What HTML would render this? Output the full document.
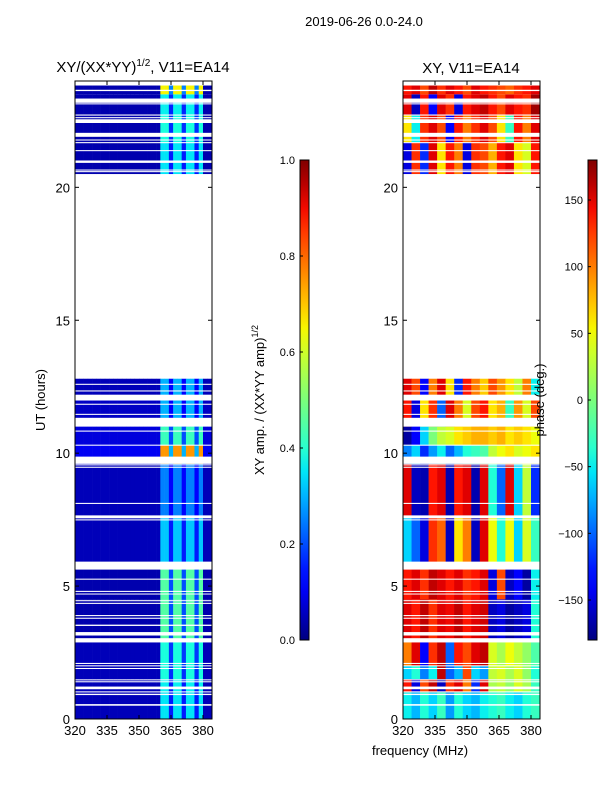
<!DOCTYPE html>
<html><head><meta charset="utf-8">
<style>
body{margin:0;background:#fff;}
svg text{font-family:"Liberation Sans",sans-serif;fill:#000;}
</style></head>
<body>
<svg id="fig" width="600" height="800" xmlns="http://www.w3.org/2000/svg">
<text x="364" y="26" font-size="13" text-anchor="middle">2019-06-26 0.0-24.0</text>
<text x="143" y="72" font-size="15" text-anchor="middle">XY/(XX*YY)<tspan font-size="10" dy="-6">1/2</tspan><tspan dy="6">, V11=EA14</tspan></text>
<text x="471" y="73" font-size="15" text-anchor="middle">XY, V11=EA14</text>
<text x="45" y="400" font-size="13" text-anchor="middle" transform="rotate(-90 45 400)">UT (hours)</text>
<text x="420" y="755" font-size="13" text-anchor="middle">frequency (MHz)</text>
<text x="264" y="400" font-size="13" text-anchor="middle" transform="rotate(-90 264 400)">XY amp. / (XX*YY amp)<tspan font-size="9" dy="-6">1/2</tspan></text>
<g id="left"></g>
<g id="right"></g>
<g id="axes"></g>
<g id="cbars"></g>
<text x="544" y="400" font-size="13" text-anchor="middle" transform="rotate(-90 544 400)">phase (deg.)</text>
</svg>
<script>
// ---- data ----
const bandStarts = [0, 1.0, 1.5, 2.0, 3.0, 4.5, 5.9, 7.6, 9.6, 10.3, 11.0, 12.0, 20.5, 21.7, 22.7, 23.5];
const bandEnds   = [1.0, 1.5, 2.0, 3.0, 4.5, 5.9, 7.6, 9.6, 10.3, 11.0, 12.0, 12.8, 21.7, 22.7, 23.5, 23.83];
// amplitude bright/dim level in the 360-380 MHz window and level below 360 MHz
const ampBright = [0.35, 0.36, 0.38, 0.38, 0.45, 0.45, 0.32, 0.25, 0.75, 0.42, 0.30, 0.30, 0.35, 0.38, 0.36, 0.65];
const ampDim    = [0.15, 0.15, 0.17, 0.18, 0.20, 0.20, 0.15, 0.12, 0.30, 0.20, 0.12, 0.12, 0.15, 0.17, 0.16, 0.25];
const ampLow    = [0.05, 0.05, 0.05, 0.05, 0.04, 0.04, 0.05, 0.05, 0.10, 0.08, 0.06, 0.05, 0.04, 0.04, 0.04, 0.04];
// 2 MHz column pattern above 360 MHz (B=bright, d=dim, L=low)
const ampPattern = "LLLLLLLLLLLLLLLLLLLLBBdBBdBBdBLL";
// phase (deg) per 4 MHz column, 320..384 MHz
const phaseVals = [
 [-50,-70,-40,-60,-30,-80,-40,-60,-70,-50,-40,-30,-50,-60,-40,-30],
 [140,-150,120,160,-160,130,150,100,-120,150,20,30,10,40,20,-30],
 [-60,-40,-90,-50,160,-100,-70,120,-60,-80,30,40,20,40,10,-40],
 [100,150,-140,130,160,-100,140,120,150,160,40,20,50,30,10,-20],
 [150,140,160,130,150,145,160,140,150,155,-160,-150,-170,-160,-150,-40],
 [140,150,130,160,150,140,150,130,140,150,-150,120,-160,-140,-170,-50],
 [-60,-100,-150,130,110,-160,60,100,-160,150,50,-40,50,-60,40,-30],
 [150,-160,-165,140,150,-165,140,150,-165,150,-40,-100,150,-60,30,-120],
 [-90,-60,-120,-80,-50,-100,-70,-40,-30,-20,30,50,60,40,50,60],
 [-170,-140,-60,0,30,40,60,70,80,80,70,80,60,70,60,50],
 [140,-150,60,130,-100,150,100,40,120,140,60,80,-30,90,40,120],
 [150,120,-140,100,150,60,-120,140,100,70,120,90,60,30,100,-50],
 [-150,130,-120,150,60,140,100,-150,130,120,80,140,150,60,40,140],
 [60,-50,130,150,120,-140,140,100,130,150,120,60,-30,140,100,150],
 [150,-160,140,-140,150,130,-150,140,150,160,140,120,150,140,130,170],
 [140,150,120,160,130,150,140,120,150,140,130,120,110,130,140,150]
];
// flagged (missing) time intervals [start, end] in hours
const gapStarts = [0.50,0.90,1.00,1.12,1.38,1.46,1.88,1.98,2.07,2.88,3.14,3.50,3.77,3.87,4.33,4.43,4.69,4.78,5.24,5.62,7.47,7.55,8.09,9.45,9.54,9.60,10.28,10.81,11.00,11.44,11.82,11.98,12.32,12.57,20.57,20.63,20.92,21.36,21.66,21.76,21.90,22.42,22.60,22.70,23.12,23.18,23.62];
const gapEnds   = [0.56,0.95,1.04,1.22,1.42,1.49,1.92,2.02,2.11,3.04,3.27,3.55,3.81,3.91,4.37,4.47,4.72,4.82,5.28,5.92,7.51,7.66,8.13,9.49,9.58,9.87,10.32,10.85,11.33,11.48,11.86,12.20,12.36,12.61,20.61,20.67,21.01,21.40,21.70,21.80,22.05,22.56,22.64,22.74,23.16,23.34,23.67];
const ampTicks = [0.0,0.2,0.4,0.6,0.8,1.0];
const phaseTicks = [-150,-100,-50,0,50,100,150];
const utTicks = [0,5,10,15,20];
const freqTicks = [320,335,350,365,380];

// ---- helpers ----
const NS="http://www.w3.org/2000/svg";
function jet(v){v=Math.max(0,Math.min(1,v));
 function interp(pts){for(let i=1;i<pts.length;i++){if(v<=pts[i][0]){const a=pts[i-1],b=pts[i];return a[1]+(b[1]-a[1])*(v-a[0])/(b[0]-a[0]);}}return pts[pts.length-1][1];}
 const r=interp([[0,0],[0.35,0],[0.66,1],[0.89,1],[1,0.5]]);
 const g=interp([[0,0],[0.125,0],[0.375,1],[0.64,1],[0.91,0],[1,0]]);
 const b=interp([[0,0.5],[0.11,1],[0.34,1],[0.65,0],[1,0]]);
 return `rgb(${Math.round(r*255)},${Math.round(g*255)},${Math.round(b*255)})`;}
function mk(tag,attrs,parent){const e=document.createElementNS(NS,tag);for(const k in attrs)e.setAttribute(k,attrs[k]);parent.appendChild(e);return e;}
const Y0=81,Y1=719;
function yS(ut){return Y1-(ut/24)*(Y1-Y0);}
function xS(px0,f){return px0+(f-320)*2.1333;}
const panels=[{x0:75,x1:212,g:document.getElementById('left')},{x0:403,x1:540,g:document.getElementById('right')}];
const fMax=384.2;

// amplitude cells
(function(){const p=panels[0];
 for(let b=0;b<bandStarts.length;b++){
  for(let c=0;c<ampPattern.length;c++){
   const f0=320+c*2,f1=Math.min(f0+2,fMax);
   const ch=ampPattern[c];
   const v=ch==='B'?ampBright[b]:ch==='d'?ampDim[b]:ampLow[b];
   const r=mk('rect',{x:xS(p.x0,f0),y:yS(bandEnds[b]),width:xS(p.x0,f1)-xS(p.x0,f0)+0.3,height:yS(bandStarts[b])-yS(bandEnds[b]),fill:jet(v)},p.g);
   
   
  }}})();
// phase cells
(function(){const p=panels[1];
 for(let b=0;b<bandStarts.length;b++){
  const row=phaseVals[b];
  for(let c=0;c<row.length;c++){
   const f0=320+c*4,f1=Math.min(f0+4,fMax);
   const r=mk('rect',{x:xS(p.x0,f0),y:yS(bandEnds[b]),width:xS(p.x0,f1)-xS(p.x0,f0)+0.3,height:yS(bandStarts[b])-yS(bandEnds[b]),fill:jet((row[c]+180)/360)},p.g);
   
   
  }}})();
// gaps
for(const p of panels){
 for(let i=0;i<gapStarts.length;i++){
  const r=mk('rect',{x:p.x0,y:yS(gapEnds[i]),width:p.x1-p.x0,height:Math.max(1,yS(gapStarts[i])-yS(gapEnds[i])),fill:'#fff'},p.g);
  
  
 }}
// axes
const ax=document.getElementById('axes');
for(const p of panels){
 const fr=mk('rect',{x:p.x0,y:Y0,width:p.x1-p.x0,height:Y1-Y0,fill:'none',stroke:'#000','stroke-width':1},ax);
 
 
 for(const t of utTicks){const y=yS(t);
  mk('line',{x1:p.x0,x2:p.x0+4,y1:y,y2:y,stroke:'#000'},ax);
  mk('line',{x1:p.x1-4,x2:p.x1,y1:y,y2:y,stroke:'#000'},ax);
  const tx=mk('text',{x:p.x0-5,y:y+5,'font-size':13,'text-anchor':'end'},ax);tx.textContent=t;
  
  }
 for(const f of freqTicks){const x=xS(p.x0,f);
  mk('line',{x1:x,x2:x,y1:Y1,y2:Y1-4,stroke:'#000'},ax);
  mk('line',{x1:x,x2:x,y1:Y0,y2:Y0+4,stroke:'#000'},ax);
  const tx=mk('text',{x:x,y:Y1+16,'font-size':13,'text-anchor':'middle'},ax);tx.textContent=f;
  
  }
}
// colorbars
const cb=document.getElementById('cbars');
const defs=mk('defs',{},cb);
const grad=mk('linearGradient',{id:'jetg',x1:0,y1:1,x2:0,y2:0},defs);
for(let i=0;i<=20;i++)mk('stop',{offset:i/20,'stop-color':jet(i/20)},grad);
const CB0=160,CB1=640;
function drawBar(x,ticks,lo,hi,fmt,name){
 const r=mk('rect',{x:x,y:CB0,width:9,height:CB1-CB0,fill:'url(#jetg)',stroke:'#000','stroke-width':1},cb);
 
 
 for(const t of ticks){const y=CB1-(t-lo)/(hi-lo)*(CB1-CB0);
  mk('line',{x1:x,x2:x+3,y1:y,y2:y,stroke:'#000'},cb);
  const tx=mk('text',{x:x-5,y:y+4,'font-size':11,'text-anchor':'end'},cb);tx.textContent=fmt(t);
  
  }
}
drawBar(300,ampTicks,0,1,t=>t.toFixed(1),'amp-colorbar');
drawBar(588,phaseTicks,-180,180,t=>t<0?'\u2212'+(-t):String(t),'phase-colorbar');
</script>
</body></html>
